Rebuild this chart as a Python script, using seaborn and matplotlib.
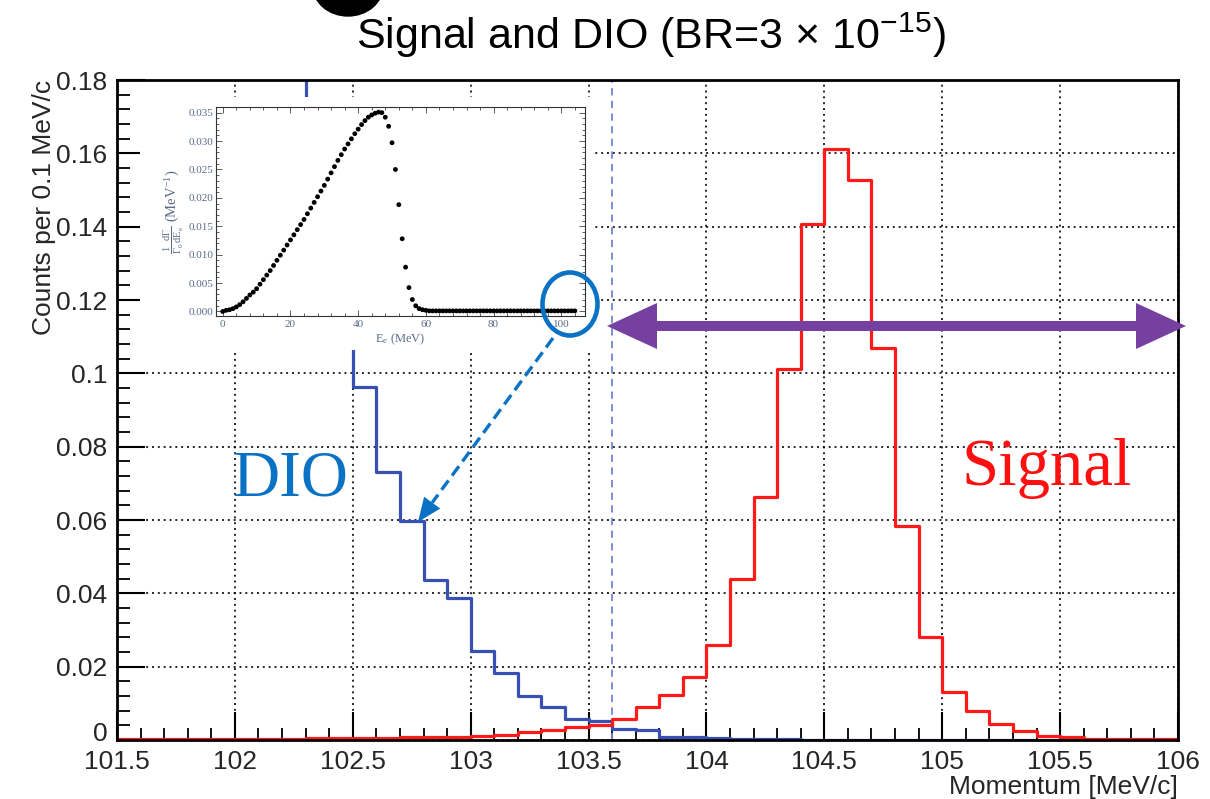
import numpy as np
import pandas as pd
import matplotlib
matplotlib.use("Agg")
import matplotlib.pyplot as plt
import seaborn as sns
from matplotlib.patches import Ellipse, FancyArrow, Rectangle
from matplotlib.lines import Line2D
from matplotlib.ticker import MultipleLocator, FuncFormatter
from matplotlib.transforms import IdentityTransform, ScaledTranslation

# ---------------- data ----------------
bin_edges = [101.5, 101.6, 101.7, 101.8, 101.9, 102.0, 102.1, 102.2, 102.3, 102.4,
             102.5, 102.6, 102.7, 102.8, 102.9, 103.0, 103.1, 103.2, 103.3, 103.4,
             103.5, 103.6, 103.7, 103.8, 103.9, 104.0, 104.1, 104.2, 104.3, 104.4,
             104.5, 104.6, 104.7, 104.8, 104.9, 105.0, 105.1, 105.2, 105.3, 105.4,
             105.5, 105.6, 105.7, 105.8, 105.9, 106.0]

signal_counts = [0.0002, 0.0002, 0.0002, 0.0003, 0.0003, 0.0003, 0.0004, 0.0004, 0.0005, 0.0005,
                 0.0006, 0.0006, 0.0007, 0.0008, 0.0008,
                 0.0012, 0.0015, 0.0022, 0.0026, 0.0036,
                 0.0042, 0.0057, 0.0090, 0.0122, 0.0172,
                 0.0259, 0.0440, 0.0662, 0.1012, 0.1408,
                 0.1613, 0.1528, 0.1069, 0.0585, 0.0280,
                 0.0132, 0.0080, 0.0043, 0.0024, 0.0012,
                 0.0007, 0.0004, 0.0003, 0.0002, 0.0002]

# bins below 102.3 MeV/c are off scale (above 0.18)
dio_counts = [0.62, 0.55, 0.48, 0.42, 0.36, 0.31, 0.26, 0.22, 0.150, 0.120,
              0.0963, 0.0731, 0.0598, 0.0436, 0.0386,
              0.0244, 0.0184, 0.0119, 0.0089, 0.0057,
              0.0052, 0.0029, 0.0027, 0.0009, 0.0007,
              0.0005, 0.0003, 0.0002, 0.0002, 0.0001,
              0.0001, 0.0001, 0.0001, 0.0001, 0.0001,
              0.0001, 0.0001, 0.0000, 0.0000, 0.0000,
              0.0000, 0.0000, 0.0000, 0.0000, 0.0000]

x_ticks = [101.5, 102, 102.5, 103, 103.5, 104, 104.5, 105, 105.5, 106]
y_ticks = [0, 0.02, 0.04, 0.06, 0.08, 0.1, 0.12, 0.14, 0.16, 0.18]
cut_momentum = 103.6

# inset: DIO spectrum
inset_energy = list(range(0, 105))
inset_rate = [0.0000, 0.0002, 0.0003, 0.0005, 0.0008, 0.0012, 0.0017, 0.0023, 0.0029, 0.0034,
              0.0040, 0.0048, 0.0056, 0.0064, 0.0072, 0.0081, 0.0090, 0.0099, 0.0108, 0.0117,
              0.0126, 0.0135, 0.0144, 0.0153, 0.0162, 0.0172, 0.0182, 0.0192, 0.0202, 0.0212,
              0.0222, 0.0233, 0.0244, 0.0255, 0.0266, 0.0276, 0.0286, 0.0295, 0.0304, 0.0313,
              0.0321, 0.0329, 0.0336, 0.0342, 0.0346, 0.0349, 0.0351, 0.0350, 0.0342, 0.0326,
              0.0297, 0.0250, 0.0188, 0.0128, 0.0078, 0.0042, 0.0021, 0.0010, 0.0005, 0.0003,
              0.0002, 0.0001, 0.0001, 0.0001, 0.0001, 0.0001, 0.0001, 0.0001, 0.0001, 0.0001,
              0.0001, 0.0001, 0.0001, 0.0001, 0.0001, 0.0001, 0.0001, 0.0001, 0.0001, 0.0001,
              0.0001, 0.0001, 0.0001, 0.0001, 0.0001, 0.0001, 0.0001, 0.0001, 0.0001, 0.0001,
              0.0001, 0.0001, 0.0001, 0.0001, 0.0001, 0.0001, 0.0001, 0.0001, 0.0001, 0.0001,
              0.0001, 0.0001, 0.0001, 0.0001, 0.0001]

# ---------------- style ----------------
sns.set_theme(style="ticks")
plt.rcParams['font.family'] = ['Liberation Sans', 'DejaVu Sans']
plt.rcParams['mathtext.default'] = 'regular'

W, H = 1210, 799
RED = '#ff1a1a'
BLUE = '#3a4fb4'
ANNOT_BLUE = '#0a72c4'
PURPLE = '#7540a0'

def fx(px):
    return px / W

def fy(py):
    return 1 - py / H

fig = plt.figure(figsize=(W / 100, H / 100), dpi=100)
ax = fig.add_axes([fx(117), fy(740), (1178 - 117) / W, (740 - 80) / H])

centers = [round((a + b) / 2, 2) for a, b in zip(bin_edges[:-1], bin_edges[1:])]
df = pd.DataFrame({
    'momentum': centers + centers,
    'counts': dio_counts + signal_counts,
    'sample': ['DIO'] * len(centers) + ['Signal'] * len(centers),
})

sns.histplot(data=df[df['sample'] == 'DIO'], x='momentum', weights='counts', bins=bin_edges,
             element='step', fill=False, color=BLUE, linewidth=2.3, ax=ax)
sns.histplot(data=df[df['sample'] == 'Signal'], x='momentum', weights='counts', bins=bin_edges,
             element='step', fill=False, color=RED, linewidth=2.3, ax=ax)

ax.axvline(cut_momentum, color='#6f86d6', linestyle=(0, (4, 3)), linewidth=1.3, zorder=1.5)

ax.set_xlim(101.5, 106)
ax.set_ylim(0, 0.18)
ax.set_xticks(x_ticks)
ax.set_yticks(y_ticks)
ax.xaxis.set_minor_locator(MultipleLocator(0.1))
ax.yaxis.set_minor_locator(MultipleLocator(0.004))
fmt = FuncFormatter(lambda v, p: '%g' % round(v, 3))
ax.xaxis.set_major_formatter(fmt)
ax.yaxis.set_major_formatter(fmt)
ax.tick_params(axis='both', which='major', direction='in', length=20, width=1.5,
               labelsize=19, top=False, right=False, color='black')
ax.tick_params(axis='both', which='minor', direction='in', length=9, width=1.3,
               top=False, right=False, color='black')
ax.tick_params(axis='y', which='major', pad=7)
ax.tick_params(axis='x', which='major', pad=7)
ax.grid(True, which='major', color='black', linestyle=(0, (1, 2)), linewidth=1.4, alpha=0.85)
ax.set_axisbelow(True)
for s in ax.spines.values():
    s.set_linewidth(2)
    s.set_color('black')

ax.set_xlabel('Momentum [MeV/c]', loc='right', fontsize=19, labelpad=1)
ax.set_ylabel('Counts per 0.1 MeV/c', loc='top', fontsize=19, labelpad=0)

# lift the "0" label a little, as in the reference
fig.canvas.draw()
zero_lab = ax.get_yticklabels()[0]
zero_lab.set_transform(zero_lab.get_transform() + ScaledTranslation(0, 6 / 72, fig.dpi_scale_trans))

# title
fig.text(fx(651), fy(49), 'Signal and DIO (BR=3 \u00d7 10$^{-15}$)', ha='center', va='baseline',
         fontsize=31, color='black')

# partial black circle at top
fig.add_artist(Ellipse((348, H + 14), 70, 60, facecolor='black', edgecolor='black',
                       transform=IdentityTransform(), zorder=5))

# white patch behind the pasted inset
fig.add_artist(Rectangle((140, H - 350), 452, 253, facecolor='white', edgecolor='none',
                         transform=IdentityTransform(), zorder=1))

# inset
axin = fig.add_axes([fx(216), fy(316), (585 - 216) / W, (316 - 107) / H], zorder=3)
sns.scatterplot(x=inset_energy, y=inset_rate, ax=axin, color='black', s=12, edgecolor='none')
axin.set_xlim(-2, 107)
axin.set_ylim(-0.0008, 0.036)
axin.set_xticks([0, 20, 40, 60, 80, 100])
axin.set_yticks([0.0, 0.005, 0.010, 0.015, 0.020, 0.025, 0.030, 0.035])
axin.yaxis.set_major_formatter(FuncFormatter(lambda v, p: '%.3f' % v))
axin.xaxis.set_minor_locator(MultipleLocator(4))
axin.yaxis.set_minor_locator(MultipleLocator(0.001))
INSET_GREY = '#5b6b8c'
axin.tick_params(axis='both', which='both', direction='in', top=True, right=True,
                 labelsize=8, labelcolor=INSET_GREY, color='#444444', width=0.6)
axin.tick_params(which='major', length=4)
axin.tick_params(which='minor', length=2)
axin.tick_params(axis='y', pad=2)
axin.tick_params(axis='x', pad=3)
for lab in axin.get_xticklabels() + axin.get_yticklabels():
    lab.set_family('Liberation Serif')
for s in axin.spines.values():
    s.set_linewidth(0.8)
    s.set_color('#333333')
axin.set_xlabel('$E_e$ (MeV)', fontsize=9, color=INSET_GREY, labelpad=2,
                family='Liberation Serif', math_fontfamily='stix')
axin.set_ylabel(r'$\frac{1}{\Gamma_0}\frac{d\Gamma}{dE_e}$ (MeV$^{-1}$)', fontsize=10.5,
                color=INSET_GREY, labelpad=2, family='Liberation Serif', math_fontfamily='stix')

# annotations: circle, dashed arrow, double arrow, labels
fig.add_artist(Ellipse((570, H - 304), 55, 63, fill=False, edgecolor=ANNOT_BLUE, linewidth=3.3,
                       transform=IdentityTransform(), zorder=6))

sx, sy = 553, H - 338
tx, ty = 418, H - 522
L = np.hypot(tx - sx, ty - sy)
ux, uy = (tx - sx) / L, (ty - sy) / L
head_len = 24
fig.add_artist(Line2D([sx, tx - ux * head_len], [sy, ty - uy * head_len], color=ANNOT_BLUE,
                      linewidth=2.4, linestyle=(0, (3.5, 1.8)), transform=IdentityTransform(), zorder=6))
fig.add_artist(FancyArrow(tx - ux * head_len, ty - uy * head_len, ux * head_len, uy * head_len,
                          width=0.1, head_width=20, head_length=head_len, length_includes_head=True,
                          color=ANNOT_BLUE, linewidth=0, transform=IdentityTransform(), zorder=6))

cx, cy = 895, H - 326
for end in (607, 1186):
    fig.add_artist(FancyArrow(cx, cy, end - cx, 0, width=10, head_width=46, head_length=50,
                              length_includes_head=True, color=PURPLE, linewidth=0,
                              transform=IdentityTransform(), zorder=6))

fig.text(fx(232), fy(496), 'DIO', ha='left', va='baseline', fontsize=47,
         family='Liberation Serif', color=ANNOT_BLUE, zorder=6)
fig.text(fx(961), fy(485), 'Signal', ha='left', va='baseline', fontsize=48,
         family='Liberation Serif', color='#ff1010', zorder=6)

fig.savefig('out.png', dpi=100)
